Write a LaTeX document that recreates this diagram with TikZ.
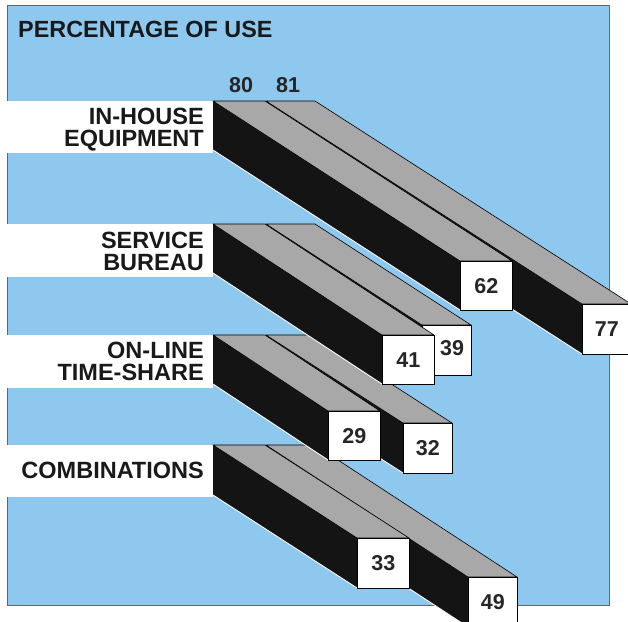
\documentclass[tikz,border=0pt]{standalone}
\usepackage{fontspec}
\setmainfont{Liberation Sans}
\definecolor{skyb}{RGB}{142,200,238}
\definecolor{topgray}{RGB}{168,168,168}
\definecolor{sideblack}{RGB}{20,20,20}
\tikzset{
  panel/.style={fill=skyb, draw=black!60, line width=0.8pt},
  band/.style={fill=white, draw=none},
  lbl/.style={font=\fontsize{23.5}{22}\selectfont\bfseries, inner sep=0pt, align=right, text=black!90},
  ttl/.style={font=\fontsize{23.4}{24}\selectfont\bfseries, inner sep=0pt, text=black!90},
  yearlbl/.style={font=\fontsize{21.5}{22}\selectfont\bfseries, inner sep=0pt, text=black!85},
  topface/.style={fill=topgray, draw=black, line width=0.6pt, line join=round},
  sideface/.style={fill=sideblack},
  highlight/.style={draw=white, line width=0.9pt},
  numbox/.style={fill=white, draw=black, line width=0.7pt, inner sep=0pt,
     font=\fontsize{21.5}{22}\selectfont\bfseries, text=black!85}
}
% #1 x0, #2 y0, #3 x1, #4 y1, #5 width, #6 height, #7 name, #8 value
\newcommand\drawbar[8]{%
  \fill[sideface] (#1,#2) -- (#3,#4) -- (#3,#4+#6) -- (#1,#2+#6) -- cycle;
  \draw[highlight] (#1,#2+#6) -- (#3,#4+#6);
  \draw[topface] (#1,#2) -- (#1+#5,#2) -- (#3+#5,#4) -- (#3,#4) -- cycle;
  \node[numbox, minimum width=#5pt, minimum height=#6pt, anchor=north west] (#7) at (#3,#4) {#8};
}
\begin{document}
\begin{tikzpicture}[x=1pt,y=-1pt]
\useasboundingbox (0,0) rectangle (628,621);
\clip (0,0) rectangle (628,621);
\fill[white] (0,0) rectangle (628,621);
\draw[panel] (7,5) rectangle (609,605);
\node[ttl, anchor=base west] (title) at (18,37) {PERCENTAGE OF USE};
\node[yearlbl, anchor=base] (y80) at (241,92) {80};
\node[yearlbl, anchor=base] (y81) at (288,92) {81};
% label bands
\fill[band] (7,101) rectangle (213,153);
\fill[band] (7,224) rectangle (213,277);
\fill[band] (7,335) rectangle (213,388);
\fill[band] (7,445) rectangle (213,497);
\node[lbl, anchor=base east] (l1) at (204,146) {IN-HOUSE\\EQUIPMENT};
\node[lbl, anchor=base east] (l2) at (204,270) {SERVICE\\BUREAU};
\node[lbl, anchor=base east] (l3) at (204,380) {ON-LINE\\TIME-SHARE};
\node[lbl, anchor=base east] (l4) at (204,478) {COMBINATIONS};
% bars, from the lowest group up, 81 before 80
\drawbar{266}{445}{468}{577}{49}{50}{b49}{49}
\drawbar{213}{445}{357}{538}{52}{50}{b33}{33}
\drawbar{266}{335}{403}{423}{49}{50}{b32}{32}
\drawbar{213}{335}{328}{411}{52}{49}{b29}{29}
\drawbar{266}{224}{422}{325}{49}{50}{b39}{}
\drawbar{213}{224}{382}{335}{52}{49}{b41}{41}
\node[numbox, draw=none, fill=none, anchor=center] (t39) at (452,348) {39};
\drawbar{266}{101}{582}{304}{49}{50}{b77}{77}
\drawbar{213}{101}{460}{261}{52}{49}{b62}{62}
\end{tikzpicture}
\end{document}
